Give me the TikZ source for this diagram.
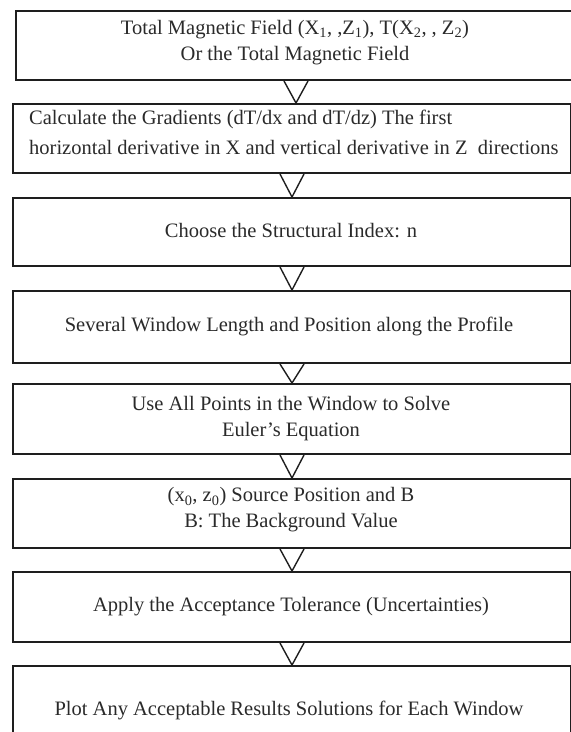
\documentclass[tikz,border=0pt]{standalone}
\usepackage{fontspec}
\setmainfont{Liberation Serif}
\definecolor{boxcol}{HTML}{1E1E1E}
\definecolor{txtcol}{HTML}{2A2A2A}
\begin{document}
\begin{tikzpicture}[x=1pt,y=-1pt,
  box/.style={draw=boxcol, line width=2pt, rectangle, inner sep=0pt, anchor=north west},
  txt/.style={font=\fontsize{20.5}{26}\selectfont, text=txtcol, align=center, inner sep=0pt},
  vee/.style={draw=boxcol, line width=1.4pt, line join=miter}]
\useasboundingbox (0,0) rectangle (571,732);
\clip (0,0) rectangle (571,732);
% boxes
\node[box, minimum width=600pt, minimum height=69pt] (b1) at (15,10) {};
\node[box, minimum width=558pt, minimum height=69pt] (b2) at (12,103) {};
\node[box, minimum width=558pt, minimum height=68pt] (b3) at (12,197) {};
\node[box, minimum width=558pt, minimum height=72pt] (b4) at (12,290) {};
\node[box, minimum width=558pt, minimum height=70pt] (b5) at (12,383) {};
\node[box, minimum width=558pt, minimum height=69pt] (b6) at (12,478) {};
\node[box, minimum width=558pt, minimum height=70pt] (b7) at (12,571) {};
\node[box, minimum width=558pt, minimum height=95pt] (b8) at (12,665) {};
% texts
\node[txt] (t1) at (295,42.5) {Total Magnetic Field (X\textsubscript{1}, ,Z\textsubscript{1}), T(X\textsubscript{2}, , Z\textsubscript{2})\\Or the Total Magnetic Field};
\node[txt, align=left, anchor=west, font=\fontsize{20.5}{30}\selectfont] (t2) at (29,132) {Calculate the Gradients (dT/dx and dT/dz) The first\\horizontal derivative in X and vertical derivative in Z\ \ directions};
\node[txt] (t3) at (291,231) {Choose the Structural Index: n};
\node[txt] (t4) at (289,326) {Several Window Length and Position along the Profile};
\node[txt] (t5) at (291,419) {Use All Points in the Window to Solve\\Euler's Equation};
\node[txt] (t6) at (291,510) {(x\textsubscript{0}, z\textsubscript{0}) Source Position and B\\B: The Background Value};
\node[txt] (t7) at (291,607) {Apply the Acceptance Tolerance (Uncertainties)};
\node[txt] (t8) at (289,710) {Plot Any Acceptable Results Solutions for Each Window};
% connectors (V marks)
\draw[vee] ([xshift=-8pt]b2.north |- b1.south) -- ([xshift=4pt]b2.north) -- ([xshift=16pt]b2.north |- b1.south);
\draw[vee] ([xshift=-12pt]b3.north |- b2.south) -- (b3.north) -- ([xshift=12pt]b3.north |- b2.south);
\draw[vee] ([xshift=-12pt]b4.north |- b3.south) -- (b4.north) -- ([xshift=12pt]b4.north |- b3.south);
\draw[vee] ([xshift=-12pt]b5.north |- b4.south) -- (b5.north) -- ([xshift=12pt]b5.north |- b4.south);
\draw[vee] ([xshift=-12pt]b6.north |- b5.south) -- (b6.north) -- ([xshift=12pt]b6.north |- b5.south);
\draw[vee] ([xshift=-12pt]b7.north |- b6.south) -- (b7.north) -- ([xshift=12pt]b7.north |- b6.south);
\draw[vee] ([xshift=-12pt]b8.north |- b7.south) -- (b8.north) -- ([xshift=12pt]b8.north |- b7.south);
\end{tikzpicture}
\end{document}
